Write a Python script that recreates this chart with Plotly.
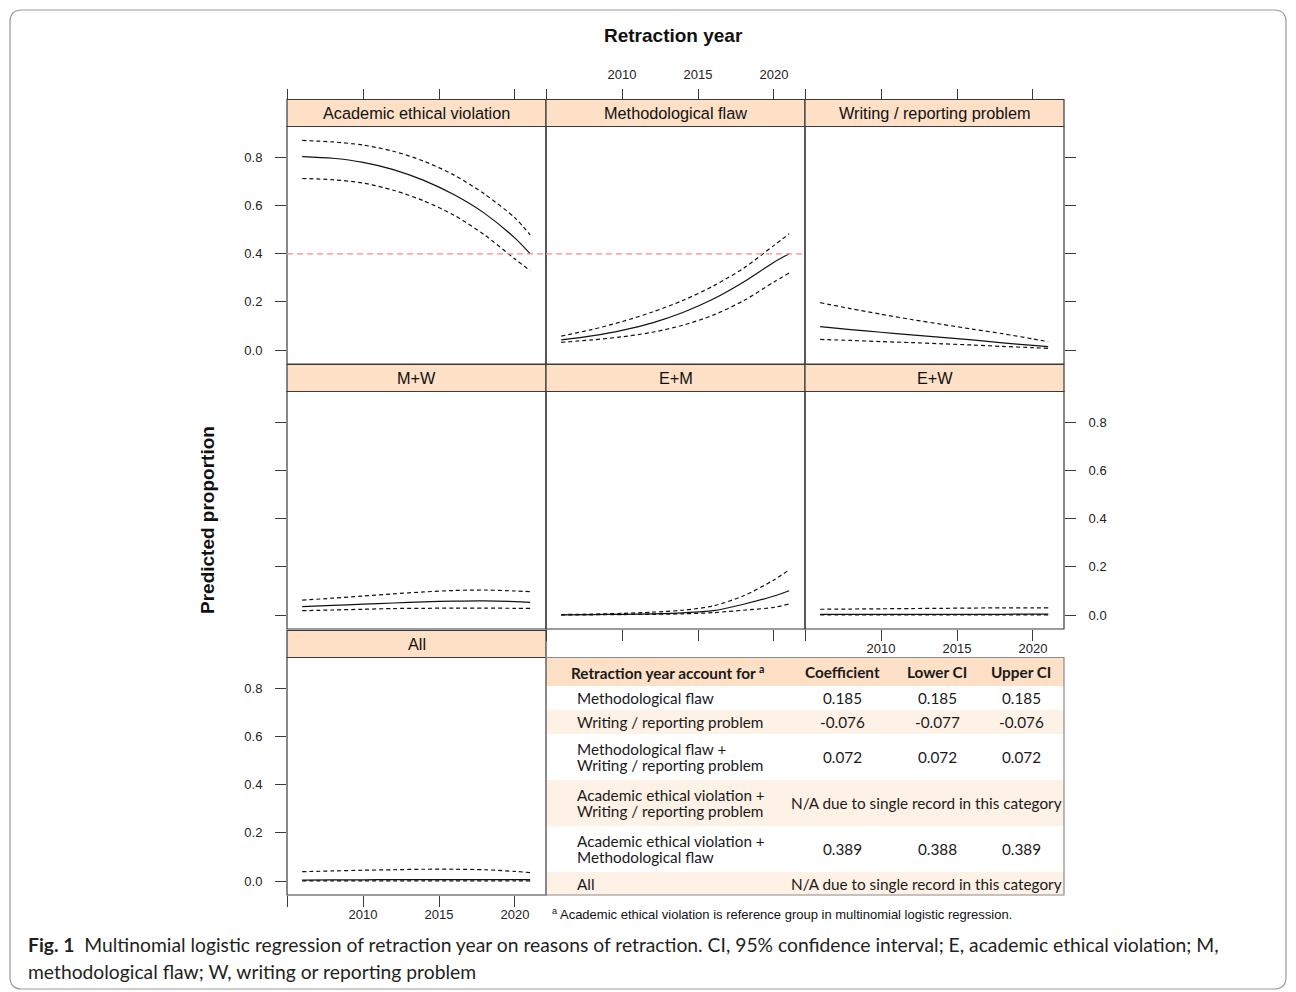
import plotly.graph_objects as go

# ---------------- data ----------------
YEARS = [2006, 2008, 2010, 2012, 2014, 2016, 2018, 2020, 2021]

PANELS = ["Academic ethical violation", "Methodological flaw", "Writing / reporting problem",
          "M+W", "E+M", "E+W", "All"]

FIT_AEV = [0.804, 0.797, 0.780, 0.750, 0.705, 0.645, 0.568, 0.465, 0.400]
UPR_AEV = [0.871, 0.865, 0.852, 0.826, 0.785, 0.727, 0.648, 0.549, 0.479]
LWR_AEV = [0.713, 0.708, 0.694, 0.664, 0.620, 0.560, 0.478, 0.378, 0.330]

FIT_MF = [0.042, 0.059, 0.082, 0.113, 0.156, 0.212, 0.283, 0.365, 0.400]
UPR_MF = [0.058, 0.085, 0.118, 0.158, 0.206, 0.266, 0.340, 0.435, 0.483]
LWR_MF = [0.032, 0.042, 0.055, 0.074, 0.103, 0.145, 0.205, 0.283, 0.320]

FIT_WR = [0.097, 0.085, 0.074, 0.063, 0.053, 0.042, 0.030, 0.019, 0.014]
UPR_WR = [0.197, 0.172, 0.149, 0.127, 0.107, 0.087, 0.068, 0.046, 0.035]
LWR_WR = [0.044, 0.040, 0.035, 0.031, 0.026, 0.021, 0.015, 0.010, 0.007]

FIT_MW = [0.035, 0.040, 0.045, 0.050, 0.055, 0.058, 0.059, 0.056, 0.053]
UPR_MW = [0.062, 0.070, 0.079, 0.088, 0.096, 0.102, 0.104, 0.100, 0.097]
LWR_MW = [0.018, 0.021, 0.024, 0.027, 0.028, 0.029, 0.029, 0.028, 0.028]

FIT_EM = [0.001, 0.002, 0.003, 0.005, 0.009, 0.018, 0.045, 0.079, 0.101]
UPR_EM = [0.002, 0.004, 0.007, 0.012, 0.020, 0.038, 0.080, 0.146, 0.188]
LWR_EM = [0.0005, 0.001, 0.002, 0.003, 0.005, 0.010, 0.020, 0.032, 0.046]

FIT_EW = [0.003, 0.003, 0.003, 0.003, 0.003, 0.003, 0.003, 0.004, 0.004]
UPR_EW = [0.024, 0.025, 0.026, 0.027, 0.028, 0.029, 0.030, 0.030, 0.030]
LWR_EW = [0.0005, 0.0005, 0.0005, 0.0005, 0.0005, 0.0005, 0.0005, 0.0005, 0.0005]

FIT_ALL = [0.004, 0.005, 0.005, 0.006, 0.006, 0.006, 0.006, 0.006, 0.006]
UPR_ALL = [0.039, 0.042, 0.045, 0.047, 0.049, 0.049, 0.047, 0.040, 0.035]
LWR_ALL = [0.001, 0.001, 0.001, 0.001, 0.001, 0.001, 0.001, 0.001, 0.001]

FITS = [FIT_AEV, FIT_MF, FIT_WR, FIT_MW, FIT_EM, FIT_EW, FIT_ALL]
UPRS = [UPR_AEV, UPR_MF, UPR_WR, UPR_MW, UPR_EM, UPR_EW, UPR_ALL]
LWRS = [LWR_AEV, LWR_MF, LWR_WR, LWR_MW, LWR_EM, LWR_EW, LWR_ALL]

X_TICKS = [2005, 2010, 2015, 2020]
X_TICK_TEXT = ["", "2010", "2015", "2020"]
Y_TICKS = [0.0, 0.2, 0.4, 0.6, 0.8]
Y_TICK_TEXT = ["0.0", "0.2", "0.4", "0.6", "0.8"]
REF_LEVEL = 0.4

TABLE_HEADER = ["Retraction year account for <sup>a</sup>", "Coefficient", "Lower CI", "Upper CI"]
TABLE_LABELS = ["Methodological flaw",
                "Writing / reporting problem",
                "Methodological flaw +\nWriting / reporting problem",
                "Academic ethical violation +\nWriting / reporting problem",
                "Academic ethical violation +\nMethodological flaw",
                "All"]
COEF = ["0.185", "-0.076", "0.072", None, "0.389", None]
LOWER_CI = ["0.185", "-0.077", "0.072", None, "0.388", None]
UPPER_CI = ["0.185", "-0.076", "0.072", None, "0.389", None]
NA_TEXT = "N/A due to single record in this category"

TITLE = "Retraction year"
Y_TITLE = "Predicted proportion"
FOOTNOTE = "<sup>a</sup> Academic ethical violation is reference group in multinomial logistic regression."
CAPTION_1 = ("<b>Fig. 1</b>  Multinomial logistic regression of retraction year on reasons of retraction. "
             "CI, 95% confidence interval; E, academic ethical violation; M,")
CAPTION_2 = "methodological flaw; W, writing or reporting problem"

# ---------------- geometry (page pixels) ----------------
PAGE_W, PAGE_H = 1296, 992
OFF = 8                      # default body margin of the html page
W, H = PAGE_W - OFF, PAGE_H - OFF

COLS = [(287, 546), (546, 805), (805, 1064)]
ROWS = [(126.5, 364), (391.5, 629), (657.5, 895)]
STRIP_H = 27
X_RANGE = [2005, 2022.04]
Y_RANGE = [-0.058, 0.929]
POS = [(0, 0), (0, 1), (0, 2), (1, 0), (1, 1), (1, 2), (2, 0)]

STRIP_FILL = "#fde0c6"
LIGHT_FILL = "#fef1e6"
BORDER = "#3a3a3a"
TICK_FONT = dict(family="Liberation Sans, Arial", size=13, color="#222")


def fx(p):
    return (p - OFF) / W


def fy(p):
    return 1 - (p - OFF) / H


fig = go.Figure()
layout = dict(width=W, height=H, margin=dict(l=0, r=0, t=0, b=0),
              paper_bgcolor="white", plot_bgcolor="white", showlegend=False)
shapes = []
annotations = []

for i, (r, c) in enumerate(POS):
    n = "" if i == 0 else str(i + 1)
    x0, x1 = COLS[c]
    y0, y1 = ROWS[r]
    for vals, dash in ((UPRS[i], "4px,3px"), (LWRS[i], "4px,3px"), (FITS[i], "solid")):
        fig.add_trace(go.Scatter(x=YEARS, y=vals, mode="lines", xaxis="x" + n, yaxis="y" + n,
                                 line=dict(color="#111", width=1.2, dash=dash, shape="spline",
                                           smoothing=0.8),
                                 hoverinfo="skip"))
    xa = dict(domain=[fx(x0), fx(x1)], range=X_RANGE, anchor="y" + n, showgrid=False,
              zeroline=False, showline=False, tickvals=X_TICKS, ticktext=X_TICK_TEXT,
              tickfont=TICK_FONT, ticks="", showticklabels=False, fixedrange=True)
    if i in (4, 5, 6):
        xa.update(ticks="outside", ticklen=11, tickcolor=BORDER, tickwidth=1,
                  showticklabels=(i != 4), ticklabelstandoff=-4)
    ya = dict(domain=[fy(y1), fy(y0)], range=Y_RANGE, anchor="x" + n, showgrid=False,
              zeroline=False, showline=False, tickvals=Y_TICKS, ticktext=Y_TICK_TEXT,
              tickfont=TICK_FONT, ticks="", showticklabels=False, fixedrange=True)
    if i in (0, 3, 6):
        ya.update(side="left", ticks="outside", ticklen=11, tickcolor=BORDER,
                  showticklabels=(i != 3), ticklabelstandoff=10)
    if i in (2, 5):
        ya.update(side="right", ticks="outside", ticklen=11, tickcolor=BORDER,
                  showticklabels=(i == 5), ticklabelstandoff=10)
    layout["xaxis" + n] = xa
    layout["yaxis" + n] = ya
    shapes.append(dict(type="rect", xref="paper", yref="paper", x0=fx(x0), x1=fx(x1),
                       y0=fy(y1), y1=fy(y0), line=dict(color=BORDER, width=1.2)))
    shapes.append(dict(type="rect", xref="paper", yref="paper", x0=fx(x0), x1=fx(x1),
                       y0=fy(y0), y1=fy(y0 - STRIP_H), fillcolor=STRIP_FILL,
                       line=dict(color=BORDER, width=1.2)))
    annotations.append(dict(text=PANELS[i], xref="paper", yref="paper", x=fx((x0 + x1) / 2),
                            y=fy(y0 - STRIP_H / 2), showarrow=False, xanchor="center",
                            yanchor="middle",
                            font=dict(family="Liberation Sans, Arial", size=16.3, color="#111")))

# top tick axes of the first row (on the top edge of the strips)
for c in range(3):
    idx = 8 + c
    base = "x" if c == 0 else "x" + str(c + 1)
    yb = "y" if c == 0 else "y" + str(c + 1)
    x0, x1 = COLS[c]
    layout["xaxis" + str(idx)] = dict(overlaying=base, anchor="free", position=fy(ROWS[0][0] - STRIP_H),
                                      side="top", range=X_RANGE, domain=[fx(x0), fx(x1)],
                                      tickvals=X_TICKS, ticktext=X_TICK_TEXT, ticks="outside",
                                      ticklen=11, tickcolor=BORDER, showgrid=False, zeroline=False,
                                      showline=False, showticklabels=(c == 1), tickfont=TICK_FONT,
                                      ticklabelstandoff=4, fixedrange=True)
    fig.add_trace(go.Scatter(x=[], y=[], xaxis="x" + str(idx), yaxis=yb, hoverinfo="skip"))

# reference line at 0.4 in the first two panels
for xr, yr in (("x domain", "y"), ("x2 domain", "y2")):
    shapes.append(dict(type="line", xref=xr, yref=yr, x0=0, x1=1, y0=REF_LEVEL, y1=REF_LEVEL,
                       line=dict(color="#ff8c8c", width=1.2, dash="6px,4px")))

# ---------------- table ----------------
TX0, TX1 = 546, 1064
ROW_EDGES = [657.5, 686, 710, 734, 780, 826, 872, 895]
COL_CENTERS = [667, 842, 937, 1021]
LABEL_X = 575
NA_CENTER = 926
TFONT = dict(family="Lato, Open Sans", size=15.3, color="#1a1a1a")

shapes.append(dict(type="rect", xref="paper", yref="paper", x0=fx(TX0), x1=fx(TX1),
                   y0=fy(ROW_EDGES[1]), y1=fy(ROW_EDGES[0]), fillcolor=STRIP_FILL,
                   line=dict(width=0), layer="below"))
for j in range(len(TABLE_LABELS)):
    if j % 2 == 1:
        shapes.append(dict(type="rect", xref="paper", yref="paper", x0=fx(TX0), x1=fx(TX1),
                           y0=fy(ROW_EDGES[j + 2]), y1=fy(ROW_EDGES[j + 1]), fillcolor=LIGHT_FILL,
                           line=dict(width=0), layer="below"))
shapes.append(dict(type="rect", xref="paper", yref="paper", x0=fx(TX0), x1=fx(TX1),
                   y0=fy(ROW_EDGES[-1]), y1=fy(ROW_EDGES[0]), line=dict(color="#8a8a8a", width=1.2)))

hy = (ROW_EDGES[0] + ROW_EDGES[1]) / 2
for k, h in enumerate(TABLE_HEADER):
    annotations.append(dict(text="<b>" + h + "</b>", xref="paper", yref="paper", x=fx(COL_CENTERS[k]),
                            y=fy(hy), showarrow=False, xanchor="center", yanchor="middle", font=TFONT))

for j, lab in enumerate(TABLE_LABELS):
    cy = (ROW_EDGES[j + 1] + ROW_EDGES[j + 2]) / 2
    lines = lab.split("\n")
    for m, ln in enumerate(lines):
        ly = cy + (m - (len(lines) - 1) / 2) * 16.5
        annotations.append(dict(text=ln, xref="paper", yref="paper", x=fx(LABEL_X), y=fy(ly),
                                showarrow=False, xanchor="left", yanchor="middle", font=TFONT))
    if COEF[j] is None:
        annotations.append(dict(text=NA_TEXT, xref="paper", yref="paper", x=fx(NA_CENTER), y=fy(cy),
                                showarrow=False, xanchor="center", yanchor="middle", font=TFONT))
    else:
        for k, v in enumerate((COEF[j], LOWER_CI[j], UPPER_CI[j])):
            annotations.append(dict(text=v, xref="paper", yref="paper", x=fx(COL_CENTERS[k + 1]), y=fy(cy),
                                    showarrow=False, xanchor="center", yanchor="middle", font=TFONT))

# ---------------- titles / footnote / caption ----------------
annotations.append(dict(text="<b>" + TITLE + "</b>", xref="paper", yref="paper", x=fx(674), y=fy(35),
                        showarrow=False, xanchor="center", yanchor="middle",
                        font=dict(family="Liberation Sans, Arial", size=19, color="#111")))
annotations.append(dict(text="<b>" + Y_TITLE + "</b>", xref="paper", yref="paper", x=fx(207), y=fy(520),
                        showarrow=False, xanchor="center", yanchor="middle", textangle=-90,
                        font=dict(family="Liberation Sans, Arial", size=19, color="#111")))
annotations.append(dict(text=FOOTNOTE, xref="paper", yref="paper", x=fx(550), y=fy(914),
                        showarrow=False, xanchor="left", yanchor="middle",
                        font=dict(family="Liberation Sans, Arial", size=13, color="#111")))
CAP_FONT = dict(family="Lato", size=19.3, color="#231f20")
annotations.append(dict(text=CAPTION_1, xref="paper", yref="paper", x=fx(26), y=fy(944),
                        showarrow=False, xanchor="left", yanchor="middle", font=CAP_FONT))
annotations.append(dict(text=CAPTION_2, xref="paper", yref="paper", x=fx(26), y=fy(971),
                        showarrow=False, xanchor="left", yanchor="middle", font=CAP_FONT))

# outer rounded frame
bx0, bx1, by0, by1 = fx(10), fx(1286), fy(989), fy(10)
rx, ry = 12 / W, 12 / H
path = (f"M {bx0 + rx},{by1} L {bx1 - rx},{by1} Q {bx1},{by1} {bx1},{by1 - ry} "
        f"L {bx1},{by0 + ry} Q {bx1},{by0} {bx1 - rx},{by0} L {bx0 + rx},{by0} "
        f"Q {bx0},{by0} {bx0},{by0 + ry} L {bx0},{by1 - ry} Q {bx0},{by1} {bx0 + rx},{by1} Z")
shapes.append(dict(type="path", xref="paper", yref="paper", path=path,
                   line=dict(color="#9a9a9a", width=1.2)))

layout["shapes"] = shapes
layout["annotations"] = annotations
fig.update_layout(**layout)
fig.write_html("out.html")
